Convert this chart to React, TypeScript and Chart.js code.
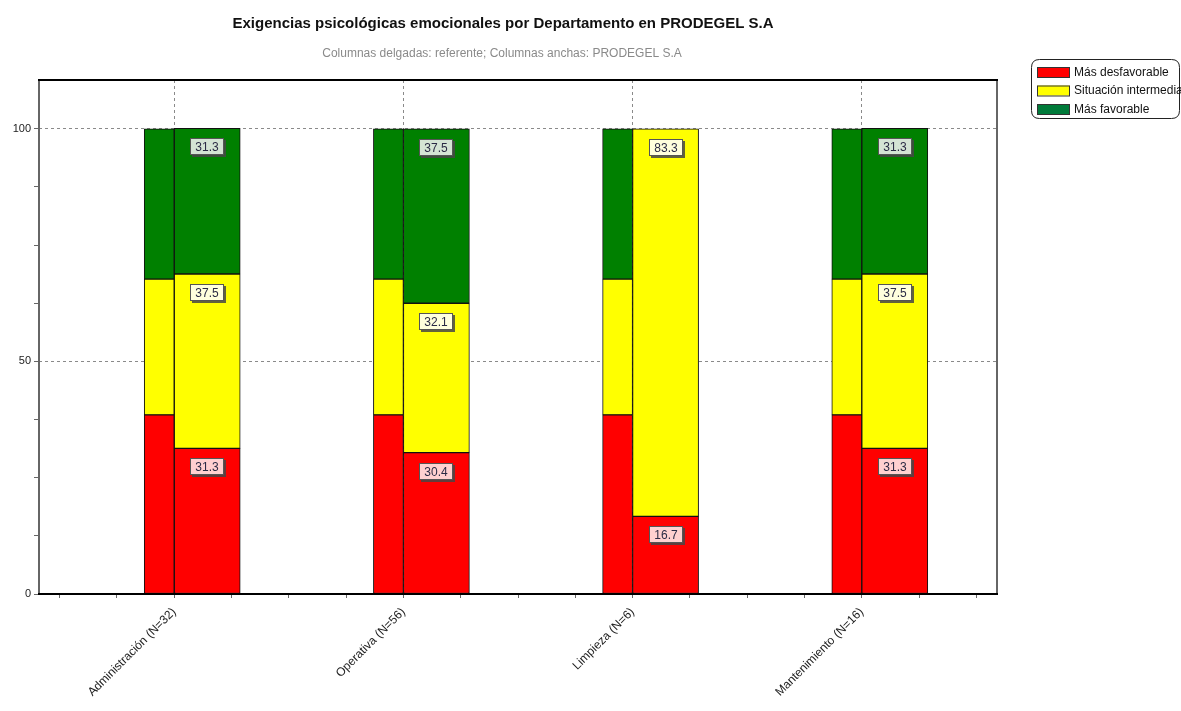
import React, { useEffect, useRef } from "react";
import { Chart, registerables } from "chart.js";

Chart.register(...registerables);

const categories = [
  "Administración (N=32)",
  "Operativa (N=56)",
  "Limpieza (N=6)",
  "Mantenimiento (N=16)",
];
const seriesNames = ["Más desfavorable", "Situación intermedia", "Más favorable"];
const seriesColors = ["#FF0000", "#FFFF00", "#008000"];
const legendColors = ["#FF0000", "#FFFF00", "#007A3A"];
const labelFills = ["#FFD0D0", "#FFFFDD", "#D4E4D4"];

// Referente (thin columns)
const refDesfavorable = [38.5, 38.5, 38.5, 38.5];
const refIntermedia = [29.2, 29.2, 29.2, 29.2];
const refFavorable = [32.3, 32.3, 32.3, 32.3];
// PRODEGEL S.A (wide columns)
const empDesfavorable = [31.3, 30.4, 16.7, 31.3];
const empIntermedia = [37.5, 32.1, 83.3, 37.5];
const empFavorable = [31.3, 37.5, 0, 31.3];

const yTickLabels = [0, 50, 100];
const yMinorStep = 12.5;
const xMinorStep = 0.25;

const TITLE = "Exigencias psicológicas emocionales por Departamento en PRODEGEL S.A";
const SUBTITLE = "Columnas delgadas: referente; Columnas anchas: PRODEGEL S.A";
const FONT = '"Liberation Sans", Arial, sans-serif';

const framePlugin = {
  id: "frame",
  afterDraw(chart: any) {
    const { ctx, chartArea: a } = chart;
    ctx.save();
    ctx.lineWidth = 2;
    ctx.strokeStyle = "#666";
    ctx.beginPath();
    ctx.moveTo(a.left, a.top);
    ctx.lineTo(a.left, a.bottom);
    ctx.moveTo(a.right, a.top);
    ctx.lineTo(a.right, a.bottom);
    ctx.stroke();
    ctx.strokeStyle = "#000";
    ctx.beginPath();
    ctx.moveTo(a.left - 1, a.top);
    ctx.lineTo(a.right + 1, a.top);
    ctx.moveTo(a.left - 1, a.bottom);
    ctx.lineTo(a.right + 1, a.bottom);
    ctx.stroke();
    ctx.restore();
  },
};

const titlePlugin = {
  id: "customTitle",
  afterDraw(chart: any) {
    const { ctx } = chart;
    ctx.save();
    ctx.textAlign = "center";
    ctx.textBaseline = "middle";
    ctx.fillStyle = "#111";
    ctx.font = `bold 15px ${FONT}`;
    ctx.fillText(TITLE, 503, 24);
    ctx.fillStyle = "#8a8a8a";
    ctx.font = `12px ${FONT}`;
    ctx.fillText(SUBTITLE, 502, 54);
    ctx.restore();
  },
};

const legendPlugin = {
  id: "customLegend",
  afterDraw(chart: any) {
    const { ctx } = chart;
    ctx.save();
    const x = 1031.5, y = 59.5, w = 148, h = 59, r = 8;
    ctx.beginPath();
    ctx.moveTo(x + r, y);
    ctx.lineTo(x + w - r, y);
    ctx.quadraticCurveTo(x + w, y, x + w, y + r);
    ctx.lineTo(x + w, y + h - r);
    ctx.quadraticCurveTo(x + w, y + h, x + w - r, y + h);
    ctx.lineTo(x + r, y + h);
    ctx.quadraticCurveTo(x, y + h, x, y + h - r);
    ctx.lineTo(x, y + r);
    ctx.quadraticCurveTo(x, y, x + r, y);
    ctx.closePath();
    ctx.fillStyle = "#fff";
    ctx.fill();
    ctx.strokeStyle = "#222";
    ctx.lineWidth = 1;
    ctx.stroke();
    ctx.font = `12px ${FONT}`;
    ctx.textAlign = "left";
    ctx.textBaseline = "middle";
    seriesNames.forEach((name, i) => {
      const sy = 67 + i * 18.5;
      ctx.fillStyle = legendColors[i];
      ctx.fillRect(1037, sy, 33, 10);
      ctx.strokeStyle = "#333";
      ctx.strokeRect(1037.5, sy + 0.5, 32, 10);
      ctx.fillStyle = "#111";
      ctx.fillText(name, 1074, sy + 5.5);
    });
    ctx.restore();
  },
};

const valueLabelPlugin = {
  id: "valueLabels",
  afterDatasetsDraw(chart: any) {
    const { ctx } = chart;
    ctx.save();
    chart.data.datasets.forEach((ds: any, di: number) => {
      if (ds.stack !== "prod") return;
      const meta = chart.getDatasetMeta(di);
      meta.data.forEach((bar: any, i: number) => {
        const v = ds.data[i];
        if (!v) return;
        const { x, y } = bar.getProps(["x", "y"], true);
        const w = 34, h = 17;
        const bx = Math.round(x - w / 2);
        const by = Math.round(y + 10);
        ctx.fillStyle = "rgba(70,70,70,0.85)";
        ctx.fillRect(bx + 2, by + 2, w, h);
        ctx.fillStyle = labelFills[ds.seriesIndex];
        ctx.fillRect(bx, by, w, h);
        ctx.strokeStyle = "#555";
        ctx.lineWidth = 1;
        ctx.strokeRect(bx + 0.5, by + 0.5, w - 1, h - 1);
        ctx.fillStyle = "#2a2a44";
        ctx.font = `12px ${FONT}`;
        ctx.textAlign = "center";
        ctx.textBaseline = "middle";
        ctx.fillText(v.toFixed(1), bx + w / 2, by + h / 2 + 1);
      });
    });
    ctx.restore();
  },
};

export default function App() {
  const canvasRef = useRef<HTMLCanvasElement | null>(null);

  useEffect(() => {
    if (!canvasRef.current) return;
    const refSeries = [refDesfavorable, refIntermedia, refFavorable];
    const empSeries = [empDesfavorable, empIntermedia, empFavorable];
    const datasets: any[] = [];
    refSeries.forEach((data, i) => {
      datasets.push({
        label: seriesNames[i] + " (referente)",
        data,
        stack: "ref",
        seriesIndex: i,
        backgroundColor: seriesColors[i],
        borderColor: "#111",
        borderWidth: 1,
        borderSkipped: false,
        barThickness: 30,
      });
    });
    empSeries.forEach((data, i) => {
      datasets.push({
        label: seriesNames[i],
        data,
        stack: "prod",
        seriesIndex: i,
        backgroundColor: seriesColors[i],
        borderColor: "#111",
        borderWidth: 1,
        borderSkipped: false,
        barThickness: 66,
      });
    });

    const chart = new Chart(canvasRef.current, {
      type: "bar",
      data: {
        labels: categories.map((_, i) => i),
        datasets,
      },
      options: {
        animation: false,
        responsive: true,
        maintainAspectRatio: false,
        layout: { padding: { top: 80, right: 184, left: 0, bottom: 0 } },
        plugins: {
          legend: { display: false },
          title: { display: false },
          tooltip: { enabled: false },
        },
        scales: {
          x: {
            type: "linear",
            offset: false,
            min: -0.59,
            max: categories.length - 1 + 0.59,
            afterFit: (scale: any) => {
              scale.height = 117;
            },
            afterBuildTicks: (scale: any) => {
              const t: any[] = [];
              for (let v = -0.5; v <= categories.length - 0.5 + 1e-9; v += xMinorStep) {
                t.push({ value: Math.round(v * 100) / 100 });
              }
              scale.ticks = t;
            },
            ticks: {
              autoSkip: false,
              minRotation: 45,
              maxRotation: 45,
              padding: 7,
              color: "#222",
              font: { family: FONT, size: 12 },
              callback: (value: any) =>
                Number.isInteger(value) ? categories[value] : "",
            },
            grid: {
              offset: false,
              color: (c: any) =>
                c.tick && Number.isInteger(c.tick.value) ? "#8a8a8a" : "rgba(0,0,0,0)",
              tickColor: "#666",
              tickLength: 4,
              lineWidth: 1,
            },
            border: { display: false, dash: [3, 3] },
          },
          y: {
            stacked: true,
            min: 0,
            max: 110.5,
            afterFit: (scale: any) => {
              scale.width = 39;
            },
            afterBuildTicks: (scale: any) => {
              const t: any[] = [];
              for (let v = 0; v <= 100; v += yMinorStep) t.push({ value: v });
              scale.ticks = t;
            },
            ticks: {
              padding: 3,
              color: "#222",
              font: { family: FONT, size: 11 },
              callback: (value: any) =>
                yTickLabels.includes(value) ? String(value) : "",
            },
            grid: {
              color: (c: any) =>
                c.tick && c.tick.value > 0 && yTickLabels.includes(c.tick.value)
                  ? "#8a8a8a"
                  : "rgba(0,0,0,0)",
              tickColor: "#666",
              tickLength: 5,
              lineWidth: 1,
            },
            border: { display: false, dash: [3, 3] },
          },
        },
      } as any,
      plugins: [valueLabelPlugin, framePlugin, titlePlugin, legendPlugin],
    });
    return () => chart.destroy();
  }, []);

  return (
    <div
      style={{
        position: "fixed",
        left: 0,
        top: 0,
        width: 1181,
        height: 711,
        background: "#fff",
      }}
    >
      <canvas ref={canvasRef} />
    </div>
  );
}
